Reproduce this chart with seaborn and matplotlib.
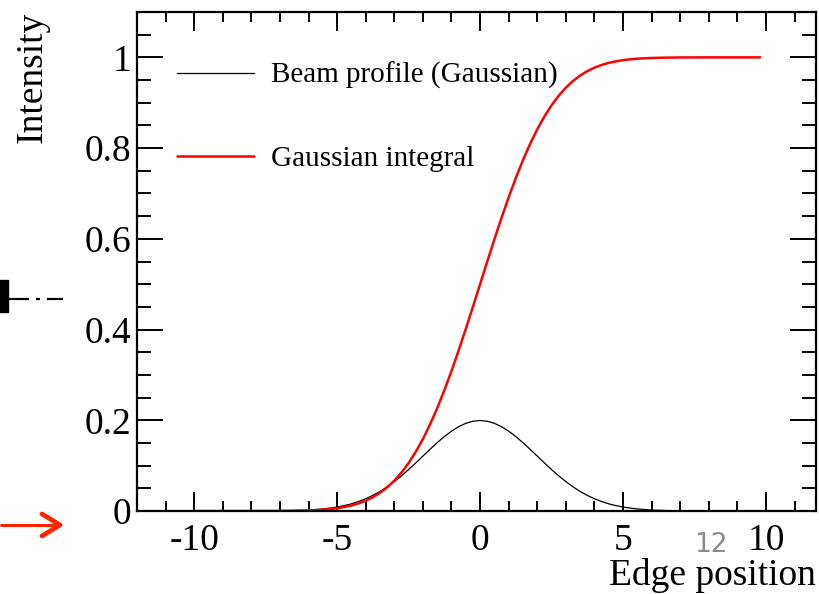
import numpy as np
import pandas as pd
import matplotlib
matplotlib.use("Agg")
import matplotlib.pyplot as plt
import seaborn as sns
from matplotlib.lines import Line2D
from matplotlib.patches import Rectangle
from matplotlib.ticker import MultipleLocator

# Edge positions (mm) at which the curves are sampled
edge_pos = [-10, -9.5, -9, -8.5, -8, -7.5, -7, -6.5,
            -6, -5.75, -5.5, -5.25, -5, -4.75, -4.5, -4.25, -4, -3.75,
            -3.5, -3.25, -3, -2.75, -2.5, -2.25, -2, -1.75, -1.5, -1.25,
            -1, -0.75, -0.5, -0.25, 0, 0.25, 0.5, 0.75, 1, 1.25, 1.5,
            1.75, 2, 2.25, 2.5, 2.75, 3, 3.25, 3.5, 3.75, 4, 4.25, 4.5,
            4.75, 5, 5.25, 5.5, 5.75, 6,
            6.5, 7, 7.5, 8, 8.5, 9, 9.5, 9.8]

# Beam profile (Gaussian)
beam_profile = [0.0000, 0.0000, 0.0000, 0.0000, 0.0001, 0.0002, 0.0004, 0.0010,
                0.0022, 0.0032, 0.0045, 0.0064, 0.0088, 0.0119, 0.0158, 0.0209,
                0.0270, 0.0344, 0.0431, 0.0533, 0.0648, 0.0775, 0.0913, 0.1059,
                0.1210, 0.1360, 0.1506, 0.1641, 0.1760, 0.1859, 0.1933, 0.1979,
                0.1995, 0.1979, 0.1933, 0.1859, 0.1760, 0.1641, 0.1506, 0.1360,
                0.1210, 0.1059, 0.0913, 0.0775, 0.0648, 0.0533, 0.0431, 0.0344,
                0.0270, 0.0209, 0.0158, 0.0119, 0.0088, 0.0064, 0.0045, 0.0032,
                0.0022,
                0.0010, 0.0004, 0.0002, 0.0001, 0.0000, 0.0000, 0.0000, 0.0000]

# Gaussian integral (fraction of the beam past the edge)
gauss_integral = [0.0000, 0.0000, 0.0000, 0.0000, 0.0000, 0.0001, 0.0002, 0.0006,
                  0.0013, 0.0020, 0.0030, 0.0043, 0.0062, 0.0088, 0.0122, 0.0168,
                  0.0228, 0.0304, 0.0401, 0.0521, 0.0668, 0.0846, 0.1056, 0.1303,
                  0.1587, 0.1908, 0.2266, 0.2660, 0.3085, 0.3538, 0.4013, 0.4503,
                  0.5000, 0.5497, 0.5987, 0.6462, 0.6915, 0.7340, 0.7734, 0.8092,
                  0.8413, 0.8697, 0.8944, 0.9154, 0.9332, 0.9479, 0.9599, 0.9696,
                  0.9772, 0.9832, 0.9878, 0.9912, 0.9938, 0.9957, 0.9970, 0.9980,
                  0.9987,
                  0.9994, 0.9998, 0.9999, 1.0000, 1.0000, 1.0000, 1.0000, 1.0000]

series_names = ["Beam profile (Gaussian)", "Gaussian integral"]
x_ticks = [-10, -5, 0, 5, 10]
y_ticks = [0, 0.2, 0.4, 0.6, 0.8, 1]
y_tick_labels = ["0", "0.2", "0.4", "0.6", "0.8", "1"]

df = pd.DataFrame({
    "Edge position": edge_pos * 2,
    "Intensity": beam_profile + gauss_integral,
    "curve": [series_names[0]] * len(edge_pos) + [series_names[1]] * len(edge_pos),
})

sns.set_style("ticks")
plt.rcParams["font.family"] = ["Liberation Serif", "DejaVu Serif"]
for key in ["text.color", "axes.labelcolor", "xtick.color", "ytick.color",
            "axes.edgecolor"]:
    plt.rcParams[key] = "black"

fig = plt.figure(figsize=(8.19, 5.94), dpi=100)
ax = fig.add_axes([137 / 819, 1 - 511 / 594, 679 / 819, 499 / 594])

sns.lineplot(data=df, x="Edge position", y="Intensity", hue="curve",
             hue_order=series_names, palette=["black", "#ff0000"],
             ax=ax, legend=False, sort=False)
ax.lines[0].set_linewidth(0.9)
ax.lines[1].set_linewidth(1.8)
for ln in ax.lines:
    ln.set_solid_joinstyle("round")

ax.set_xlim(-12, 11.75)
ax.set_ylim(0, 1.1)

ax.set_xticks(x_ticks)
ax.set_xticklabels([str(v) for v in x_ticks])
ax.set_yticks(y_ticks)
ax.set_yticklabels(y_tick_labels)
ax.xaxis.set_minor_locator(MultipleLocator(1))
ax.yaxis.set_minor_locator(MultipleLocator(0.05))

for side in ["top", "right", "left", "bottom"]:
    ax.spines[side].set_visible(True)
    ax.spines[side].set_linewidth(1.6)
    ax.spines[side].set_color("black")

ax.tick_params(axis="both", which="both", direction="in", top=True, right=True,
               color="black", labelcolor="black", width=1.4, labelsize=27)
ax.tick_params(axis="x", which="major", length=14, pad=9)
ax.tick_params(axis="x", which="minor", length=7)
ax.tick_params(axis="y", which="major", length=19, pad=4)
ax.tick_params(axis="y", which="minor", length=10)

ax.set_xlabel("Edge position", fontsize=27, loc="right")
ax.xaxis.set_label_coords(1.0, -0.095)
ax.set_ylabel("Intensity", fontsize=27, loc="top")
ax.yaxis.set_label_coords(-0.128, 1.0)

# Legend
handles = [Line2D([], [], color="black", lw=0.9),
           Line2D([], [], color="#ff0000", lw=1.8)]
ax.legend(handles, series_names, loc="upper left", frameon=False,
          fontsize=21, handlelength=2.65, handletextpad=0.6,
          labelspacing=1.93, bbox_to_anchor=(0.041, 0.923), borderaxespad=0)

# Marks in the left margin
def fig_xy(px, py):
    return px / 819, 1 - py / 594

fig.add_artist(Rectangle(fig_xy(0, 312), 8 / 819, 32 / 594,
                         transform=fig.transFigure, color="black"))
for x0, x1 in [(8, 29), (36, 40), (47, 63)]:
    (a, b), (c, d) = fig_xy(x0, 299), fig_xy(x1, 299)
    fig.add_artist(Line2D([a, c], [b, d], transform=fig.transFigure,
                          color="black", lw=1.6, solid_capstyle="butt"))

arrow_red = "#ff2400"
(a, b), (c, d) = fig_xy(0, 525), fig_xy(60, 525)
fig.add_artist(Line2D([a, c], [b, d], transform=fig.transFigure,
                      color=arrow_red, lw=2.2, solid_capstyle="butt"))
head = [fig_xy(42, 514), fig_xy(60, 525), fig_xy(42, 536)]
fig.add_artist(Line2D([p[0] for p in head], [p[1] for p in head],
                      transform=fig.transFigure, color=arrow_red, lw=3.4,
                      solid_capstyle="round", solid_joinstyle="round"))

fig.text(711 / 819, 1 - 545 / 594, "12", fontsize=19, color="#8c8c8c",
         family=["Liberation Sans Narrow", "DejaVu Sans"],
         ha="center", va="center")

fig.savefig("out.png", dpi=100)
